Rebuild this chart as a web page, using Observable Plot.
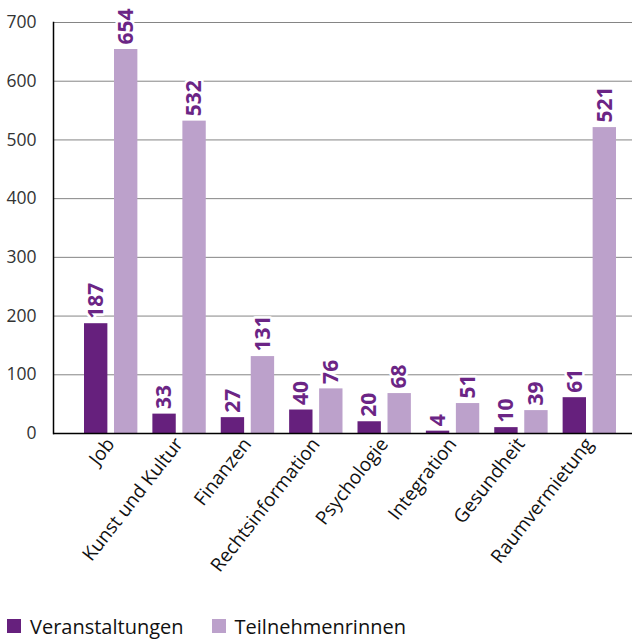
<!DOCTYPE html>
<html>
<head>
<meta charset="utf-8">
<script src="https://cdn.jsdelivr.net/npm/d3@7"></script>
<script src="https://cdn.jsdelivr.net/npm/@observablehq/plot@0.6"></script>
<style>
  body { margin: 0; background: #fff; font-family: "Open Sans", sans-serif; }
  #chart svg { display: block; }
  .legend { display: flex; align-items: center; height: 28px; font-size: 20px; color: #111; }
  .legend .item { display: flex; align-items: center; }
  .legend .sw { width: 14px; height: 14px; display: inline-block; }
</style>
</head>
<body>
<div id="chart"></div>
<div class="legend" id="legend"></div>
<script>
const categories = ["Job", "Kunst und Kultur", "Finanzen", "Rechtsinformation", "Psychologie", "Integration", "Gesundheit", "Raumvermietung"];
const veranstaltungen = [187, 33, 27, 40, 20, 4, 10, 61];
const teilnehmende = [654, 532, 131, 76, 68, 51, 39, 521];
const seriesNames = ["Veranstaltungen", "Teilnehmenrinnen"];
const yTicks = [0, 100, 200, 300, 400, 500, 600, 700];

const dark = "#66207d";
const light = "#bca1cb";
const labelColor = "#6b2585";
const font = "Open Sans";

const data = categories.map((c, i) => ({category: c, v: veranstaltungen[i], t: teilnehmende[i]}));

const chart = Plot.plot({
  width: 632,
  height: 612,
  marginLeft: 53,
  marginRight: 0,
  marginTop: 22,
  marginBottom: 179,
  style: {fontFamily: font, background: "#fff"},
  x: {domain: categories, padding: 0, insetLeft: 23, insetRight: 9, round: false, axis: null},
  y: {domain: [0, 700], axis: null},
  marks: [
    Plot.ruleY(yTicks.filter(d => d > 0), {stroke: "#858585", strokeWidth: 1}),
    Plot.barY(data, {x: "category", y: "v", fill: dark, insetLeft: 8, insetRight: 37}),
    Plot.barY(data, {x: "category", y: "t", fill: light, insetLeft: 38, insetRight: 7}),
    Plot.text(data, {x: "category", y: "v", text: d => String(d.v), rotate: -90, textAnchor: "start", dx: -14.5, dy: -5, fill: labelColor, stroke: "white", strokeWidth: 5, fontWeight: "bold", fontSize: 21}),
    Plot.text(data, {x: "category", y: "t", text: d => String(d.t), rotate: -90, textAnchor: "start", dx: 15.5, dy: -5, fill: labelColor, stroke: "white", strokeWidth: 5, fontWeight: "bold", fontSize: 21}),
    Plot.ruleY([0], {stroke: "#000", strokeWidth: 1.5}),
    Plot.frame({anchor: "left", stroke: "#000", strokeWidth: 1.5}),
    Plot.axisY(yTicks, {tickSize: 0, tickPadding: 17, fontSize: 17.5, fill: "#333", label: null}),
    Plot.axisX({tickSize: 0, tickPadding: 7, tickRotate: -52, fontSize: 19, fill: "#111", label: null})
  ]
});
document.getElementById("chart").appendChild(chart);

const colors = [dark, light];
const legend = document.getElementById("legend");
seriesNames.forEach((name, i) => {
  const item = document.createElement("div");
  item.className = "item";
  item.style.marginLeft = i === 0 ? "7px" : "28px";
  const sw = document.createElement("span");
  sw.className = "sw";
  sw.style.background = colors[i];
  const label = document.createElement("span");
  label.textContent = name;
  label.style.marginLeft = "9px";
  item.appendChild(sw);
  item.appendChild(label);
  legend.appendChild(item);
});
</script>
</body>
</html>
